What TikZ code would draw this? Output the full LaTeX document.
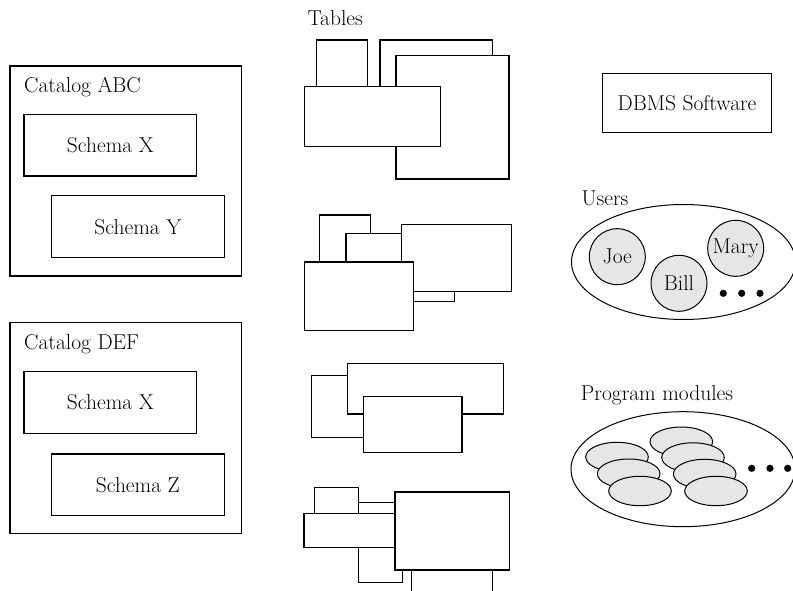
\documentclass[tikz,border=0pt]{standalone}
\usetikzlibrary{shapes.geometric}
\definecolor{lightfill}{HTML}{E6E6E6}
\begin{document}
\begin{tikzpicture}[x=1pt,y=-1pt,
  every node/.style={font=\fontsize{21.5}{25}\selectfont},
  bigbox/.style={draw, line width=1.1pt},
  schemabox/.style={draw, line width=1.1pt, minimum width=172.7pt, minimum height=61.7pt, inner sep=0pt},
  tbl/.style={draw, fill=white, line width=1.1pt},
  user/.style={draw, circle, fill=lightfill, line width=1pt, inner sep=0pt, minimum size=56pt},
  module/.style={draw, ellipse, fill=lightfill, line width=1pt, minimum width=62.6pt, minimum height=29.4pt, inner sep=0pt},
  pool/.style={draw, ellipse, line width=1pt, inner sep=0pt},
  label/.style={anchor=base west, inner sep=0pt}
]
\useasboundingbox (0,0) rectangle (793,591);

% Catalog ABC
\draw[bigbox] (10,66) rectangle (241.3,276);
\node[label] (catabc) at (24,92.3) {Catalog ABC};
\node[schemabox] (sx1) at (110.3,145.2) {Schema X};
\node[schemabox] (sy) at (137.8,226.8) {Schema Y};

% Catalog DEF
\draw[bigbox] (10,322.3) rectangle (241.3,533.3);
\node[label] (catdef) at (24,349.3) {Catalog DEF};
\node[schemabox] (sx2) at (110.3,402.5) {Schema X};
\node[schemabox] (sz) at (137.8,484.8) {Schema Z};

% Tables
\node[label] (tables) at (307.3,26) {Tables};
% group 1
\draw[tbl] (316.7,40) rectangle (367.7,100);
\draw[tbl] (380,40) rectangle (492.7,100);
\draw[tbl] (396,55.7) rectangle (509,179);
\draw[tbl] (304.7,86.7) rectangle (440.3,146.7);
% group 2
\draw[tbl] (319.3,215) rectangle (370.3,270);
\draw[tbl] (346,233.7) rectangle (454.7,301.7);
\draw[tbl] (401.3,224.7) rectangle (511.7,291.7);
\draw[tbl] (304.7,262) rectangle (413.7,330.3);
% group 3
\draw[tbl] (311.3,375.7) rectangle (400,437.3);
\draw[tbl] (347.3,363.7) rectangle (503.3,414);
\draw[tbl] (363.3,396.7) rectangle (462,452.7);
% group 4
\draw[tbl] (358.3,502.7) rectangle (420,540);
\draw[tbl] (314.7,487.3) rectangle (358.3,520);
\draw[tbl] (358.3,530) rectangle (402.3,582.7);
\draw[line width=1.1pt] (411.7,592) -- (411.7,560) -- (492.7,560) -- (492.7,592);
\draw[tbl] (304,513.3) rectangle (395,547.3);
\draw[tbl] (395,492) rectangle (509.7,570);

% DBMS Software
\node[draw, line width=1.1pt, minimum width=169.4pt, minimum height=58.7pt, inner sep=0pt] (dbms) at (687,103.3) {DBMS Software};

% Users
\node[label] (userslab) at (581.5,205) {Users};
\node[pool, minimum width=224pt, minimum height=115pt] (users) at (683.5,262) {};
\node[user] (joe) at (617.3,256.7) {Joe};
\node[user] (bill) at (679,283.3) {Bill};
\node[user] (mary) at (735.7,248.3) {Mary};
\fill (723.3,293.3) circle [radius=3.6pt];
\fill (741.7,293.3) circle [radius=3.6pt];
\fill (760,293.3) circle [radius=3.6pt];

% Program modules
\node[label] (modlab) at (580.7,400) {Program modules};
\node[pool, minimum width=224pt, minimum height=115pt] (mods) at (683,469.2) {};
\node[module] (m1) at (617,457) {};
\node[module] (m2) at (628.7,473.7) {};
\node[module] (m3) at (640,491) {};
\node[module] (m4) at (681.3,441.7) {};
\node[module] (m5) at (693,457.5) {};
\node[module] (m6) at (704.7,474) {};
\node[module] (m7) at (716,491) {};
\fill (751.7,468.3) circle [radius=3.6pt];
\fill (770,468.3) circle [radius=3.6pt];
\fill (787.7,468.3) circle [radius=3.6pt];
\end{tikzpicture}
\end{document}
